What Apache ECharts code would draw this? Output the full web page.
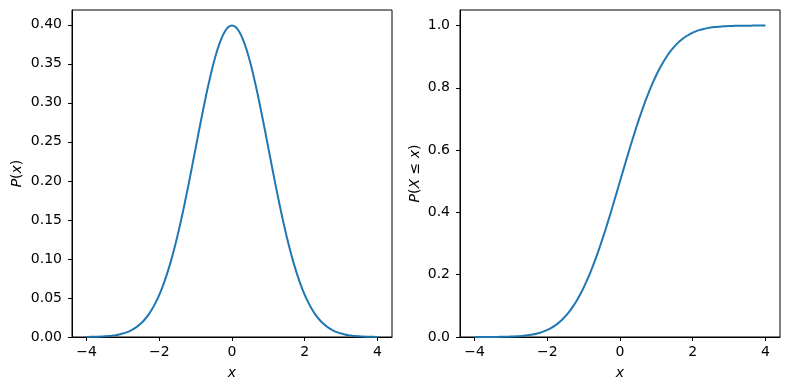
<!DOCTYPE html>
<html><head><meta charset="utf-8">
<script src="https://cdn.jsdelivr.net/npm/echarts@6/dist/echarts.min.js"></script>
<style>html,body{margin:0;padding:0;background:#fff}#c{width:790px;height:390px}</style>
</head><body><div id="c"></div>
<script>
const xs = [-4.0,-3.9,-3.8,-3.7,-3.6,-3.5,-3.4,-3.3,-3.2,-3.1,-3.0,-2.9,-2.8,-2.7,-2.6,-2.5,-2.4,-2.3,-2.2,-2.1,-2.0,-1.9,-1.8,-1.7,-1.6,-1.5,-1.4,-1.3,-1.2,-1.1,-1.0,-0.9,-0.8,-0.7,-0.6,-0.5,-0.4,-0.3,-0.2,-0.1,0.0,0.1,0.2,0.3,0.4,0.5,0.6,0.7,0.8,0.9,1.0,1.1,1.2,1.3,1.4,1.5,1.6,1.7,1.8,1.9,2.0,2.1,2.2,2.3,2.4,2.5,2.6,2.7,2.8,2.9,3.0,3.1,3.2,3.3,3.4,3.5,3.6,3.7,3.8,3.9,4.0];
const pdf = [0.0001,0.0002,0.0003,0.0004,0.0006,0.0009,0.0012,0.0017,0.0024,0.0033,0.0044,0.0060,0.0079,0.0104,0.0136,0.0175,0.0224,0.0283,0.0355,0.0440,0.0540,0.0656,0.0790,0.0940,0.1109,0.1295,0.1497,0.1714,0.1942,0.2179,0.2420,0.2661,0.2897,0.3123,0.3332,0.3521,0.3683,0.3814,0.3910,0.3970,0.3989,0.3970,0.3910,0.3814,0.3683,0.3521,0.3332,0.3123,0.2897,0.2661,0.2420,0.2179,0.1942,0.1714,0.1497,0.1295,0.1109,0.0940,0.0790,0.0656,0.0540,0.0440,0.0355,0.0283,0.0224,0.0175,0.0136,0.0104,0.0079,0.0060,0.0044,0.0033,0.0024,0.0017,0.0012,0.0009,0.0006,0.0004,0.0003,0.0002,0.0001];
const cdf = [0.0000,0.0000,0.0001,0.0001,0.0002,0.0002,0.0003,0.0005,0.0007,0.0010,0.0013,0.0019,0.0026,0.0035,0.0047,0.0062,0.0082,0.0107,0.0139,0.0179,0.0228,0.0287,0.0359,0.0446,0.0548,0.0668,0.0808,0.0968,0.1151,0.1357,0.1587,0.1841,0.2119,0.2420,0.2743,0.3085,0.3446,0.3821,0.4207,0.4602,0.5000,0.5398,0.5793,0.6179,0.6554,0.6915,0.7257,0.7580,0.7881,0.8159,0.8413,0.8643,0.8849,0.9032,0.9192,0.9332,0.9452,0.9554,0.9641,0.9713,0.9772,0.9821,0.9861,0.9893,0.9918,0.9938,0.9953,0.9965,0.9974,0.9981,0.9987,0.9990,0.9993,0.9995,0.9997,0.9998,0.9998,0.9999,0.9999,1.0000,1.0000];
const xTicks = [-4,-2,0,2,4];
const pdfTicks = [0,0.05,0.10,0.15,0.20,0.25,0.30,0.35,0.40];
const cdfTicks = [0,0.2,0.4,0.6,0.8,1.0];

const FONT = 'DejaVu Sans';
const FS = 14;
const lab = {color:'#000', fontFamily:FONT, fontSize:FS};
function xAxis(i){
  return {type:'value', gridIndex:i, min:-4.4, max:4.4, position:'bottom',
    axisLine:{show:true,onZero:false,lineStyle:{color:'#000',width:1}},
    axisTick:{show:true,length:4,inside:false,lineStyle:{color:'#000'},customValues:xTicks},
    axisLabel:Object.assign({margin:8,customValues:xTicks,formatter:v=>(v<0?'\u2212'+(-v):String(v))},lab),
    splitLine:{show:false},
    name:'x', nameLocation:'middle', nameGap:29,
    nameTextStyle:{color:'#000',fontFamily:FONT,fontSize:FS,fontStyle:'italic'}};
}
function yAxis(i,max,ticks,dec,name,gap){
  return {type:'value', gridIndex:i, min:0, max:max, position:'left',
    axisLine:{show:true,onZero:false,lineStyle:{color:'#000',width:1}},
    axisTick:{show:true,length:4,lineStyle:{color:'#000'},customValues:ticks},
    axisLabel:Object.assign({margin:10,customValues:ticks,formatter:v=>v.toFixed(dec)},lab),
    splitLine:{show:false},
    name:name, nameLocation:'middle', nameGap:gap, nameRotate:90,
    nameTextStyle:{color:'#000',fontFamily:FONT,fontSize:FS,
      rich:{i:{fontStyle:'italic',fontFamily:FONT,fontSize:FS,color:'#000'},n:{fontFamily:FONT,fontSize:FS,color:'#000'}}}};
}
const chart = echarts.init(document.getElementById('c'),null,{renderer:'canvas'});
chart.setOption({
  animation:false,
  backgroundColor:'#fff',
  grid:[
    {left:72, top:10, width:320, height:327, show:true, borderColor:'#000', borderWidth:1},
    {left:460, top:10, width:320, height:327, show:true, borderColor:'#000', borderWidth:1}
  ],
  xAxis:[xAxis(0), xAxis(1)],
  yAxis:[
    yAxis(0,0.4189,pdfTicks,2,'{i|P}{n|(}{i|x}{n|)}',48),
    yAxis(1,1.05,cdfTicks,1,'{i|P}{n|(}{i|X}{n| \u2264 }{i|x}{n|)}',38)
  ],
  series:[
    {type:'line', xAxisIndex:0, yAxisIndex:0, data:xs.map((x,k)=>[x,pdf[k]]), showSymbol:false, smooth:0.3,
     lineStyle:{color:'#1f77b4',width:2}},
    {type:'line', xAxisIndex:1, yAxisIndex:1, data:xs.map((x,k)=>[x,cdf[k]]), showSymbol:false, smooth:0.3,
     lineStyle:{color:'#1f77b4',width:2}}
  ]
});
</script></body></html>
